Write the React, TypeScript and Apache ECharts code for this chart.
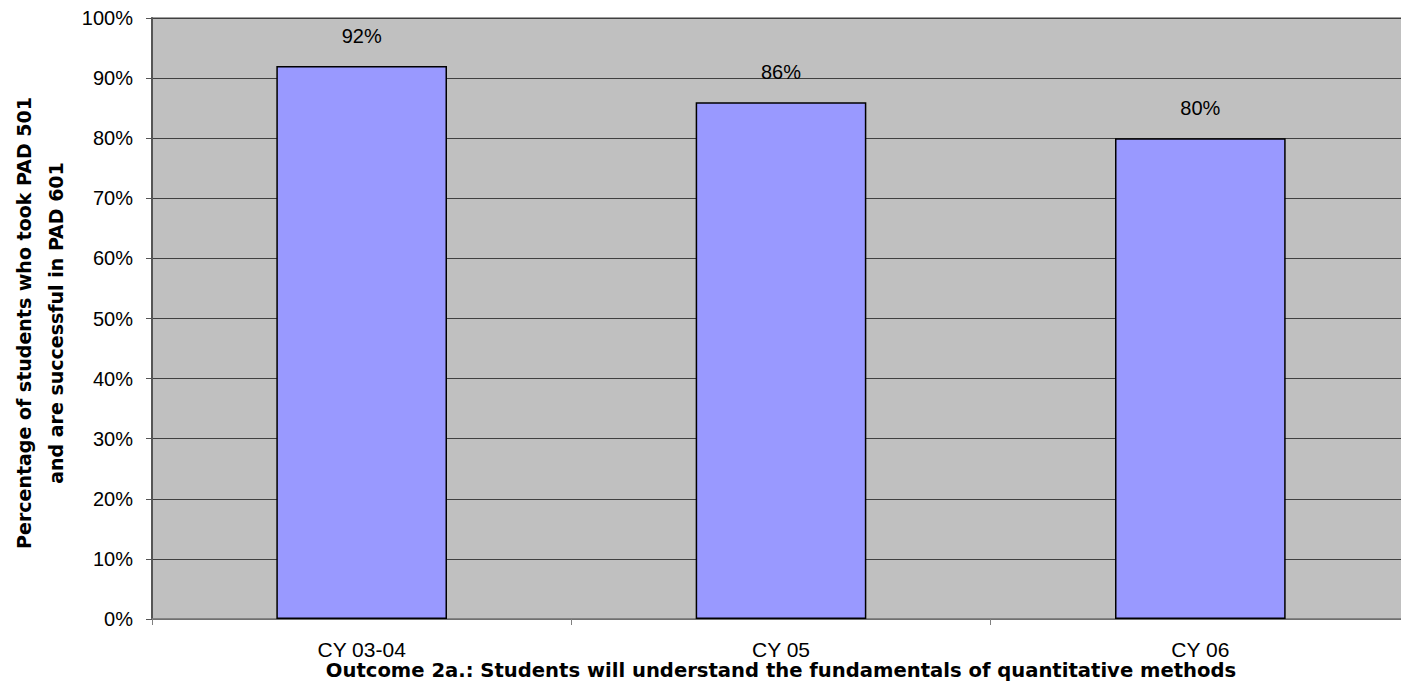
import React, { useEffect, useRef } from "react";
import * as echarts from "echarts";

const categories = ["CY 03-04", "CY 05", "CY 06"];
const successRates = [0.92, 0.86, 0.8];
const yTitleLines = [
  "Percentage of students who took PAD 501",
  "and are successful in PAD 601",
];
const xTitle =
  "Outcome 2a.: Students will understand the fundamentals of quantitative methods";

export default function App() {
  const ref = useRef<HTMLDivElement>(null);
  useEffect(() => {
    if (!ref.current) return;
    const chart = echarts.init(ref.current, null, { renderer: "svg" });
    const font = "Liberation Sans, Arial, sans-serif";
    const titleFont = "DejaVu Sans, sans-serif";
    chart.setOption({
      animation: false,
      backgroundColor: "#ffffff",
      grid: {
        left: 152,
        top: 18,
        width: 1258,
        height: 601,
        outerBoundsMode: "none",
        containLabel: false,
        show: true,
        backgroundColor: "#c0c0c0",
        borderColor: "#808080",
        borderWidth: 1.5,
      },
      xAxis: {
        type: "category",
        data: categories,
        axisLine: { show: true, lineStyle: { color: "#808080", width: 1.5 } },
        axisTick: {
          show: true,
          inside: false,
          length: 6,
          interval: 0,
          lineStyle: { color: "#808080", width: 1 },
        },
        axisLabel: {
          margin: 20,
          fontSize: 21,
          color: "#000",
          fontFamily: font,
        },
        splitLine: { show: false },
      },
      yAxis: {
        type: "value",
        min: 0,
        max: 1,
        interval: 0.1,
        axisLine: { show: true, lineStyle: { color: "#555555", width: 2 } },
        axisTick: {
          show: true,
          inside: false,
          length: 6,
          lineStyle: { color: "#555555", width: 1 },
        },
        axisLabel: {
          margin: 19,
          fontSize: 20,
          color: "#000",
          fontFamily: font,
          formatter: (v: number) => Math.round(v * 100) + "%",
        },
        splitLine: { show: true, lineStyle: { color: "#404040", width: 1 } },
      },
      series: [
        {
          type: "bar",
          data: successRates,
          barCategoryGap: "59.3%",
          itemStyle: {
            color: "#9999ff",
            borderColor: "#000",
            borderWidth: 1.5,
          },
          label: {
            show: true,
            position: "top",
            distance: 20,
            fontSize: 20,
            color: "#000",
            fontFamily: font,
            formatter: (p: any) => Math.round(p.value * 100) + "%",
          },
        },
      ],
      graphic: [
        {
          type: "text",
          x: 24,
          y: 323,
          rotation: Math.PI / 2,
          style: {
            text: yTitleLines[0],
            fontSize: 19,
            fontWeight: "bold",
            fontFamily: titleFont,
            fill: "#000",
            align: "center",
            verticalAlign: "middle",
          },
        },
        {
          type: "text",
          x: 56,
          y: 323,
          rotation: Math.PI / 2,
          style: {
            text: yTitleLines[1],
            fontSize: 19,
            fontWeight: "bold",
            fontFamily: titleFont,
            fill: "#000",
            align: "center",
            verticalAlign: "middle",
          },
        },
        {
          type: "text",
          x: 781,
          y: 670,
          style: {
            text: xTitle,
            fontSize: 19.6,
            fontWeight: "bold",
            fontFamily: titleFont,
            fill: "#000",
            align: "center",
            verticalAlign: "middle",
          },
        },
      ],
    });
    return () => chart.dispose();
  }, []);
  return (
    <div
      ref={ref}
      style={{
        position: "fixed",
        left: 0,
        top: 0,
        width: 1401,
        height: 681,
        background: "#fff",
      }}
    />
  );
}
